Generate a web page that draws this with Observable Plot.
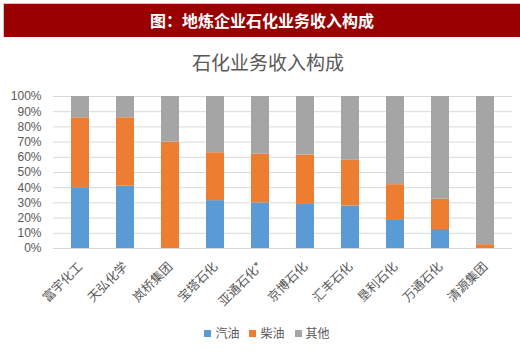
<!DOCTYPE html>
<html>
<head>
<meta charset="utf-8">
<script src="https://cdn.jsdelivr.net/npm/d3@7"></script>
<script src="https://cdn.jsdelivr.net/npm/@observablehq/plot@0.6"></script>
<style>
  html, body { margin: 0; padding: 0; background: #fff; }
  #wrap { position: relative; width: 520px; height: 353px; overflow: hidden; font-family: "Noto Sans CJK SC", "Noto Sans", sans-serif; }
  #banner { position: absolute; left: 3px; top: 3px; width: 517px; height: 34px; background: #990000;
    border-top: 1px solid #c8c8c8; border-left: 1px solid #c8c8c8; box-sizing: border-box;
    color: #fff; font-weight: bold; font-size: 16px; line-height: 32px; text-align: center; }
  #title { position: absolute; left: 8px; top: 49px; width: 520px; text-align: center; font-size: 19px; color: #595959; line-height: 26px; }
  #chart { position: absolute; left: 0; top: 80px; }
  #legend { position: absolute; left: 0; top: 324px; width: 520px; display: flex; justify-content: center; gap: 10px; padding-left: 14px; box-sizing: border-box;
    font-size: 12px; color: #595959; line-height: 18px; }
  #legend span.item { display: inline-flex; align-items: center; }
  #legend span.sw { display: inline-block; width: 7px; height: 7px; margin-right: 4px; }
</style>
</head>
<body>
<div id="wrap">
  <div id="banner">图：地炼企业石化业务收入构成</div>
  <div id="title">石化业务收入构成</div>
  <div id="chart"></div>
  <div id="legend"></div>
</div>
<script>
const companies = ["富宇化工", "天弘化学", "岚桥集团", "宝塔石化", "亚通石化*", "京博石化", "汇丰石化", "垦利石化", "万通石化", "清源集团"];
const seriesNames = ["汽油", "柴油", "其他"];
const seriesColors = ["#5B9BD5", "#ED7D31", "#A5A5A5"];
const gasoline = [40, 41, 0, 31.5, 30, 29, 28, 19, 12.5, 0];
const diesel = [46, 45, 70, 31.5, 32, 32.5, 30, 23, 20, 2.5];
const other = [14, 14, 30, 37, 38, 38.5, 42, 58, 67.5, 97.5];
const yTicks = [0, 10, 20, 30, 40, 50, 60, 70, 80, 90, 100];

const seriesValues = [gasoline, diesel, other];
const data = companies.flatMap((c, i) => seriesNames.map((s, j) => ({company: c, series: s, value: seriesValues[j][i] / 100})));

const chart = Plot.plot({
  width: 520,
  height: 250,
  marginTop: 16,
  marginBottom: 82,
  marginLeft: 53,
  marginRight: 8,
  style: {fontFamily: '"Noto Sans CJK SC", "Noto Sans", sans-serif', fontSize: "12px", color: "#595959", background: "transparent"},
  x: {domain: companies, paddingInner: 0.6, paddingOuter: 0.3},
  y: {domain: [0, 1]},
  color: {domain: seriesNames, range: seriesColors},
  marks: [
    Plot.ruleY(yTicks.map(d => d / 100), {stroke: "#d9d9d9", strokeWidth: 1}),
    Plot.barY(data, {x: "company", y: "value", fill: "series"}),
    Plot.axisY(yTicks.map(d => d / 100), {tickSize: 0, tickPadding: 12, tickFormat: d => Math.round(d * 100) + "%", label: null, fontSize: 12, fontFamily: '"Liberation Sans", Arial, sans-serif'}),
    Plot.axisX({tickSize: 0, tickPadding: 16, tickRotate: -45, label: null, fontSize: 12.5})
  ]
});
document.getElementById("chart").appendChild(chart);

const legend = document.getElementById("legend");
seriesNames.forEach((s, i) => {
  const item = document.createElement("span");
  item.className = "item";
  const sw = document.createElement("span");
  sw.className = "sw";
  sw.style.background = seriesColors[i];
  item.appendChild(sw);
  item.appendChild(document.createTextNode(s));
  legend.appendChild(item);
});
</script>
</body>
</html>
